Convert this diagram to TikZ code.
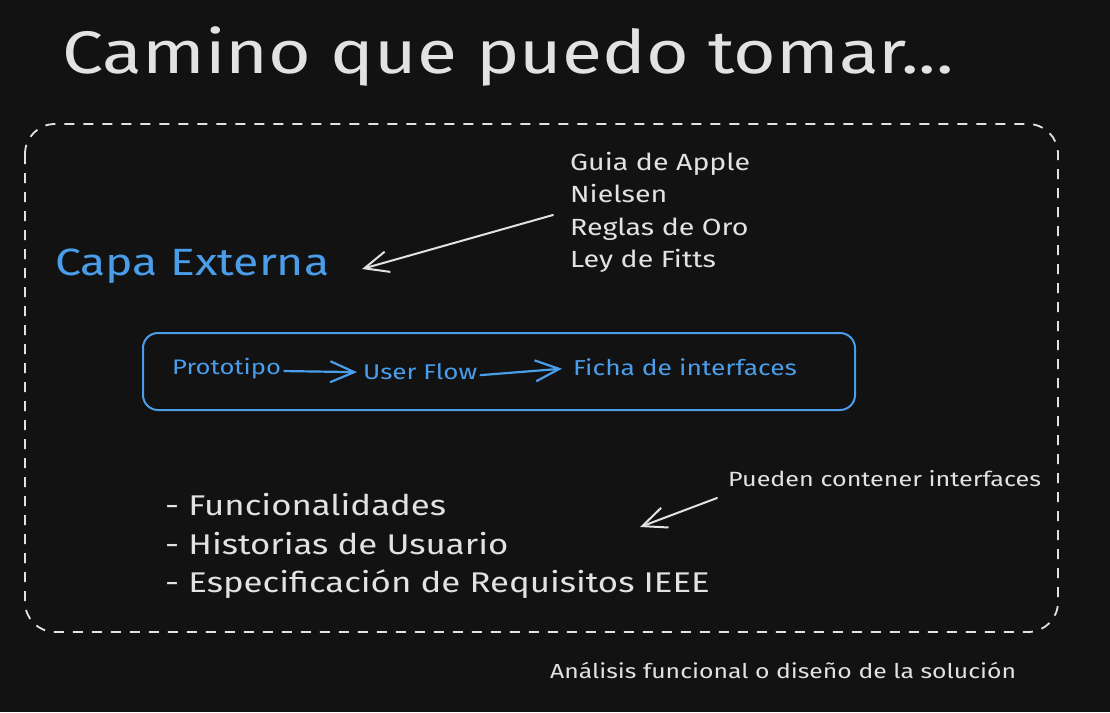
\documentclass[tikz,border=0pt]{standalone}
\usepackage{fontspec}
\setmainfont{Fira Sans}[FakeStretch=1.22]
\usetikzlibrary{positioning,arrows.meta}
\definecolor{bgdark}{HTML}{121212}
\definecolor{chalk}{HTML}{E2E2E2}
\definecolor{skyblue}{HTML}{4A9DE9}

\begin{document}
\begin{tikzpicture}[x=1pt,y=1pt]
	\tikzstyle{wnode}=[anchor=base west,text=chalk,inner sep=0pt];
	\tikzstyle{bnode}=[anchor=base west,text=skyblue,inner sep=0pt];
	\tikzstyle{warrow}=[draw=chalk,line width=2pt,line cap=round,-{Straight Barb[length=24pt,width=21pt,line width=2pt]}];
	\tikzstyle{barrow}=[draw=skyblue,line width=2.2pt,line cap=round,-{Straight Barb[length=24pt,width=21pt,line width=2.2pt]}];

	% background and frames
	\fill[bgdark] (0,0) rectangle (1110,-712);
	\useasboundingbox (0,0) rectangle (1110,-712);
	\draw[chalk,line width=1.8pt,dash pattern=on 10pt off 9pt,rounded corners=30pt] (25,-124) rectangle (1058,-632);
	\draw[skyblue,line width=2pt,rounded corners=15pt] (143,-333) rectangle (855,-410);

	\node[wnode,font=\fontsize{60}{60}\selectfont] (title) at (62,-73) {Camino que puedo tomar...};

	\node[wnode,font=\fontsize{23.4}{24}\selectfont] (guia) at (570,-170) {Guia de Apple};
	\node[wnode,font=\fontsize{23.4}{24}\selectfont] (nielsen) at (570,-202) {Nielsen};
	\node[wnode,font=\fontsize{23.4}{24}\selectfont] (reglas) at (570,-235) {Reglas de Oro};
	\node[wnode,font=\fontsize{23.4}{24}\selectfont] (ley) at (570,-267) {Ley de Fitts};

	\node[bnode,font=\fontsize{38}{38}\selectfont] (capa) at (55,-275) {Capa Externa};

	\node[bnode,font=\fontsize{21}{21}\selectfont] (proto) at (172,-374) {Prototipo};
	\node[bnode,font=\fontsize{21.3}{21}\selectfont] (uflow) at (363,-379) {User Flow};
	\node[bnode,font=\fontsize{21.6}{21}\selectfont] (ficha) at (573,-375) {Ficha de interfaces};

	\node[wnode,font=\fontsize{28.5}{28}\selectfont] (func) at (165,-515) {- Funcionalidades};
	\node[wnode,font=\fontsize{28.5}{28}\selectfont] (hist) at (165,-554) {- Historias de Usuario};
	\node[wnode,font=\fontsize{28.5}{28}\selectfont] (espec) at (165,-592) {- Especificación de Requisitos IEEE};

	\node[wnode,font=\fontsize{20.6}{21}\selectfont] (pueden) at (728,-486) {Pueden contener interfaces};
	\node[wnode,font=\fontsize{20.3}{21}\selectfont] (analisis) at (550,-678) {Análisis funcional o diseño de la solución};

	\coordinate (guiaend) at (553,-215);
	\coordinate (capatip) at (362,-269);
	\coordinate (puedenend) at (717,-498);
	\coordinate (puedentip) at (640,-527);

	\draw[warrow] (guiaend) -- (capatip);
	\draw[warrow] (puedenend) -- (puedentip);
	\draw[barrow] ([xshift=3pt,yshift=-3pt]proto.east) -- ([xshift=-6pt,yshift=-1pt]uflow.west);
	\draw[barrow] ([xshift=3pt,yshift=-4pt]uflow.east) -- ([xshift=-11pt,yshift=-2pt]ficha.west);

\end{tikzpicture}
\end{document}
